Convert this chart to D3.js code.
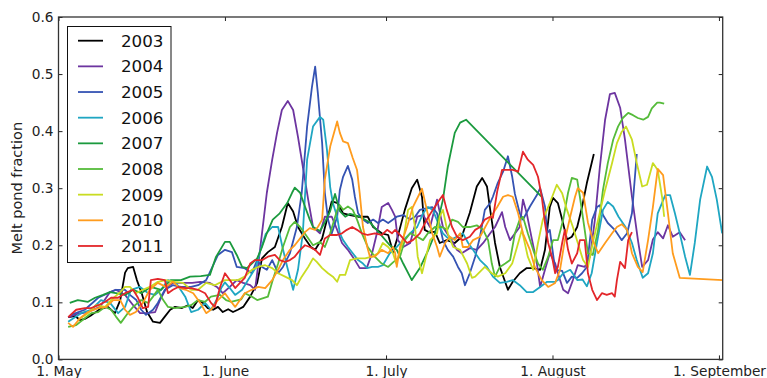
<!DOCTYPE html>
<html>
<head>
<meta charset="utf-8">
<script src="https://cdn.jsdelivr.net/npm/d3@7"></script>
<style>
  html, body { margin: 0; padding: 0; background: #fff; }
  svg { display: block; font-family: "DejaVu Sans", sans-serif; }
</style>
</head>
<body>
<svg id="chart" width="767" height="378"></svg>
<script>
// Days are counted from 1 May; values are melt pond fraction.
const years = ["2003", "2004", "2005", "2006", "2007", "2008", "2009", "2010", "2011"];
const colors = ["#000000", "#6d35a0", "#3553b3", "#1fa6c2", "#1b9a3e", "#55bb3a", "#c9dc22", "#ff9c1e", "#e3262a"];

const monthDays = [0, 31, 61, 92, 123];
const monthLabels = ["1. May", "1. June", "1. July", "1. August", "1. September"];
const yTicks = [0.0, 0.1, 0.2, 0.3, 0.4, 0.5, 0.6];

const y2003 = [[1.8,.074],[3.1,.076],[4.0,.069],[4.9,.071],[6.2,.078],[7.7,.088],[9.2,.092],[10.5,.081],[11.5,.104],[12.4,.152],[12.9,.160],[13.9,.162],[14.6,.139],[15.5,.116],[16.5,.083],[17.6,.066],[18.9,.064],[19.8,.075],[20.8,.087],[21.7,.092],[23.0,.090],[24.1,.095],[25.0,.090],[26.0,.104],[26.9,.099],[27.8,.090],[28.8,.087],[29.7,.092],[30.6,.083],[31.6,.088],[32.5,.083],[33.4,.087],[34.4,.092],[35.7,.110],[37.0,.134],[37.9,.177],[39.0,.188],[40.3,.197],[41.6,.232],[42.7,.274],[43.7,.259],[44.6,.232],[45.9,.212],[47.0,.197],[47.8,.192],[49.1,.212],[50.0,.245],[50.9,.277],[52.0,.274],[53.0,.256],[54.3,.253],[55.8,.250],[57.6,.250],[58.6,.232],[60.2,.221],[61.4,.218],[62.3,.188],[63.0,.209],[64.5,.262],[65.8,.300],[66.8,.315],[67.7,.285],[68.2,.227],[69.2,.222],[70.1,.224],[71.0,.204],[72.3,.209],[73.8,.204],[75.1,.215],[76.6,.257],[77.9,.303],[78.9,.318],[79.8,.303],[80.4,.262],[81.3,.204],[82.2,.162],[83.7,.122],[84.6,.136],[85.9,.151],[87.2,.160],[88.4,.160],[89.7,.157],[90.6,.192],[91.5,.267],[92.1,.283],[93.0,.274],[93.8,.245],[94.7,.210],[95.6,.215],[96.6,.232],[97.5,.267],[98.4,.309],[99.7,.360]];

const y2004 = [[1.8,.074],[3.6,.080],[5.5,.083],[7.7,.092],[9.6,.118],[10.7,.122],[12.4,.113],[13.9,.095],[15.2,.081],[16.5,.081],[18.0,.083],[18.9,.104],[20.2,.127],[21.3,.134],[23.0,.134],[24.9,.134],[26.4,.136],[28.2,.134],[29.5,.127],[30.6,.116],[31.9,.127],[33.2,.139],[34.4,.134],[35.7,.130],[36.6,.122],[37.0,.151],[37.9,.221],[38.8,.292],[39.8,.350],[40.7,.397],[41.6,.437],[42.7,.453],[43.7,.437],[44.6,.390],[45.5,.338],[46.5,.280],[47.4,.232],[48.7,.221],[49.6,.250],[50.9,.250],[51.9,.227],[52.8,.204],[53.9,.192],[55.2,.174],[56.1,.160],[57.4,.160],[58.4,.186],[59.3,.221],[60.2,.267],[61.4,.274],[62.1,.262],[62.7,.250],[63.2,.209],[64.2,.197],[65.5,.204],[66.8,.250],[67.9,.253],[69.2,.232],[70.5,.280],[71.6,.232],[73.1,.210],[74.2,.192],[75.1,.186],[76.6,.195],[77.9,.192],[79.1,.204],[80.4,.221],[81.3,.232],[82.6,.258],[83.2,.232],[84.1,.209],[85.9,.232],[86.5,.280],[87.2,.256],[88.2,.209],[89.1,.168],[89.7,.127],[90.6,.157],[91.5,.186],[92.5,.168],[93.0,.151],[94.0,.122],[94.9,.116],[95.8,.139],[96.7,.165],[98.0,.162],[99.0,.180],[99.9,.245],[100.8,.335],[101.8,.420],[102.7,.465],[103.6,.467],[104.6,.441],[105.5,.385],[106.8,.285],[107.9,.210],[108.7,.162],[109.8,.174],[110.7,.210],[111.6,.223],[112.6,.212],[113.5,.235],[114.4,.215],[115.7,.223],[116.7,.209]];

const y2005 = [[2.3,.078],[4.9,.087],[7.4,.108],[9.2,.116],[10.7,.122],[12.4,.122],[13.3,.113],[14.5,.104],[15.4,.087],[16.3,.078],[17.6,.087],[18.5,.099],[19.8,.122],[21.3,.130],[22.8,.127],[24.7,.127],[26.0,.130],[27.5,.139],[28.4,.157],[29.7,.183],[31.0,.192],[32.3,.188],[33.2,.162],[34.6,.160],[36.0,.151],[37.0,.174],[37.9,.162],[38.8,.157],[39.8,.174],[40.9,.151],[41.8,.162],[43.1,.186],[44.4,.232],[45.3,.292],[46.3,.408],[47.2,.477],[47.8,.513],[48.3,.467],[49.1,.379],[49.6,.292],[50.2,.245],[50.9,.221],[51.9,.250],[52.4,.297],[53.0,.320],[53.9,.339],[54.7,.315],[55.2,.285],[55.8,.256],[56.7,.245],[57.6,.239],[58.6,.245],[59.5,.239],[60.4,.245],[61.4,.239],[62.3,.245],[63.0,.250],[64.2,.253],[65.5,.245],[66.4,.250],[67.3,.262],[68.6,.265],[69.6,.267],[70.5,.256],[71.6,.209],[72.5,.192],[73.5,.180],[74.4,.162],[75.1,.151],[75.7,.130],[76.6,.151],[77.6,.180],[78.5,.215],[79.4,.262],[80.4,.274],[80.9,.285],[81.8,.309],[82.8,.329],[83.7,.356],[84.5,.320],[85.0,.290],[85.9,.256],[86.5,.245],[87.8,.268],[89.1,.288],[89.7,.300],[90.6,.268],[91.0,.221],[91.5,.227],[92.5,.157],[93.8,.155],[94.7,.134],[95.6,.145],[96.6,.143],[97.5,.151],[98.4,.162],[99.4,.245],[100.3,.267],[100.8,.270],[101.4,.253],[102.3,.239],[103.6,.227],[104.9,.209],[105.9,.221],[106.8,.256],[107.7,.360]];

const y2006 = [[1.8,.066],[4.2,.081],[6.1,.087],[7.9,.104],[9.6,.099],[11.1,.081],[12.4,.092],[13.5,.122],[15.2,.127],[16.7,.116],[18.0,.113],[19.1,.122],[20.4,.139],[21.9,.134],[23.6,.110],[24.7,.083],[26.0,.087],[27.3,.099],[28.4,.087],[29.5,.105],[30.3,.125],[31.0,.135],[31.9,.125],[32.9,.113],[34.2,.122],[35.3,.139],[36.8,.162],[37.5,.188],[38.6,.220],[39.8,.232],[40.9,.232],[41.7,.197],[42.6,.162],[43.7,.122],[44.6,.157],[45.5,.221],[46.3,.350],[47.4,.408],[48.7,.425],[49.3,.420],[50.0,.367],[50.6,.302],[51.1,.274],[51.9,.250],[52.4,.221],[53.0,.209],[53.9,.197],[54.8,.186],[55.8,.174],[56.7,.168],[57.5,.160],[58.4,.162],[59.5,.162],[60.4,.165],[61.7,.186],[63.0,.197],[64.2,.209],[65.5,.221],[66.8,.232],[67.9,.256],[68.8,.267],[69.7,.262],[70.7,.239],[71.6,.221],[72.9,.209],[74.2,.215],[75.3,.221],[76.3,.204],[77.2,.192],[78.5,.174],[79.8,.162],[80.9,.145],[82.2,.134],[83.5,.136],[84.6,.139],[85.9,.130],[87.2,.118],[88.4,.118],[89.7,.127],[91.0,.136],[92.5,.136],[93.0,.139],[94.0,.151],[95.3,.157],[96.6,.139],[97.6,.140],[98.4,.128],[99.3,.151],[100.3,.205],[101.4,.262],[102.3,.276],[103.3,.268],[104.3,.250],[105.6,.232],[106.8,.204],[107.7,.174],[108.8,.143],[109.8,.151],[110.7,.186],[111.6,.256],[113.0,.288],[113.9,.288],[114.8,.256],[115.7,.221],[116.7,.180],[117.6,.148],[118.5,.204],[119.5,.280],[120.8,.338],[121.7,.320],[122.6,.280],[123.6,.221]];

const y2007 = [[2.1,.099],[3.6,.104],[5.5,.101],[6.8,.108],[8.3,.113],[9.6,.118],[10.7,.116],[12.4,.113],[13.9,.122],[15.4,.116],[17.2,.127],[19.1,.122],[20.9,.139],[22.8,.139],[24.5,.145],[26.5,.146],[28.2,.148],[29.3,.179],[31.0,.206],[31.9,.206],[33.2,.183],[34.2,.162],[35.1,.160],[36.0,.168],[37.0,.177],[37.9,.197],[38.8,.221],[39.9,.245],[41.2,.256],[42.6,.274],[43.5,.292],[44.0,.301],[45.0,.292],[45.9,.268],[46.8,.245],[47.4,.232],[48.7,.225],[49.6,.240],[50.6,.260],[51.5,.290],[52.4,.260],[53.4,.250],[54.3,.255],[56.1,.250],[58.0,.240],[59.9,.220],[61.7,.200],[63.0,.192],[64.2,.168],[65.8,.139],[67.3,.160],[68.8,.190],[70.1,.220],[71.6,.280],[72.5,.338],[73.8,.397],[74.8,.415],[75.9,.420],[90.0,.285]];

const y2008 = [[1.8,.057],[3.3,.060],[4.9,.072],[6.1,.081],[7.4,.083],[8.7,.092],[9.8,.087],[10.7,.075],[11.6,.064],[12.9,.081],[13.9,.092],[15.4,.104],[16.7,.099],[17.6,.110],[18.5,.122],[19.5,.104],[20.4,.092],[21.7,.090],[23.6,.092],[24.7,.095],[26.0,.104],[27.3,.101],[28.4,.110],[30.1,.113],[31.2,.104],[32.1,.101],[34.0,.105],[34.7,.116],[36.0,.110],[37.0,.104],[39.0,.110],[39.9,.139],[40.9,.168],[41.8,.197],[43.1,.232],[44.0,.241],[45.0,.232],[46.3,.215],[47.4,.200],[48.7,.206],[49.6,.197],[50.6,.221],[51.9,.262],[52.4,.270],[53.0,.262],[53.9,.268],[54.8,.262],[55.6,.245],[56.5,.221],[57.6,.197],[58.9,.180],[60.2,.168],[61.4,.162],[62.3,.170],[63.6,.180],[64.5,.209],[65.5,.221],[66.8,.215],[67.9,.209],[68.8,.221],[70.1,.232],[71.4,.232],[72.4,.227],[73.3,.245],[74.4,.241],[75.3,.232],[76.6,.232],[77.9,.235],[79.1,.227],[80.0,.209],[80.7,.168],[81.3,.145],[82.2,.162],[83.2,.168],[84.1,.174],[85.0,.221],[85.9,.245],[86.5,.250],[87.4,.221],[88.4,.192],[89.3,.168],[90.2,.157],[91.2,.180],[92.1,.209],[93.0,.209],[94.0,.245],[94.9,.292],[95.6,.318],[96.6,.315],[97.1,.285],[98.0,.227],[98.6,.186],[99.5,.183],[100.5,.227],[101.4,.297],[102.3,.344],[103.3,.385],[104.2,.408],[105.1,.423],[106.1,.432],[107.0,.428],[107.9,.423],[108.9,.420],[109.8,.425],[110.5,.440],[111.5,.450],[112.0,.450],[112.8,.448]];

const y2009 = [[3.6,.069],[5.5,.081],[7.0,.095],[8.7,.092],[9.8,.104],[11.5,.118],[12.4,.127],[13.3,.127],[14.4,.116],[15.7,.122],[17.0,.127],[18.5,.136],[20.0,.139],[21.7,.136],[23.2,.134],[24.7,.122],[26.0,.122],[27.5,.134],[29.1,.130],[31.0,.139],[32.3,.139],[33.4,.139],[34.7,.145],[36.0,.157],[37.2,.162],[38.5,.165],[39.8,.160],[40.9,.151],[42.2,.145],[43.5,.139],[44.4,.130],[45.3,.145],[46.5,.162],[47.4,.177],[48.1,.171],[49.1,.160],[50.2,.151],[51.1,.145],[51.9,.136],[52.4,.148],[53.4,.148],[54.3,.174],[55.6,.177],[57.1,.177],[58.4,.180],[59.5,.186],[60.4,.204],[61.4,.197],[62.3,.186],[62.9,.168],[64.2,.209],[65.1,.262],[65.8,.267],[66.4,.232],[66.9,.180],[67.7,.151],[68.3,.174],[69.2,.209],[70.5,.221],[71.0,.250],[71.6,.262],[72.5,.221],[73.5,.197],[74.8,.192],[76.1,.168],[77.0,.143],[77.6,.145],[79.4,.162],[80.7,.151],[81.8,.145],[83.2,.151],[84.5,.168],[85.4,.197],[86.3,.227],[87.4,.180],[88.4,.157],[89.3,.204],[90.2,.245],[91.5,.274],[92.8,.306],[93.8,.291],[94.7,.262],[95.8,.232],[97.1,.192],[97.7,.174],[98.6,.162],[99.5,.204],[100.5,.245],[101.8,.297],[103.1,.344],[104.0,.379],[104.9,.399],[105.7,.408],[106.8,.385],[107.7,.344],[108.7,.303],[109.6,.306],[110.7,.344],[111.6,.332],[112.4,.285],[112.8,.250]];

const y2010 = [[1.8,.064],[2.7,.057],[4.0,.072],[5.5,.083],[7.4,.090],[8.9,.092],[10.2,.104],[11.5,.104],[12.4,.087],[13.3,.078],[14.4,.083],[15.7,.099],[17.0,.122],[18.5,.134],[20.0,.127],[21.3,.136],[22.6,.125],[23.7,.122],[25.1,.116],[26.4,.099],[27.5,.081],[28.4,.087],[29.7,.104],[31.0,.116],[31.9,.104],[32.9,.092],[33.8,.104],[34.7,.116],[36.0,.122],[37.2,.127],[38.5,.125],[39.8,.139],[40.9,.157],[41.8,.174],[43.1,.192],[44.0,.200],[45.0,.212],[45.9,.223],[46.8,.230],[47.8,.227],[48.3,.232],[49.1,.245],[49.6,.315],[50.6,.373],[51.9,.417],[52.4,.397],[53.0,.382],[53.9,.379],[54.8,.353],[55.6,.332],[56.1,.291],[56.7,.232],[57.5,.197],[58.0,.180],[58.9,.180],[60.2,.192],[61.4,.186],[62.3,.197],[62.7,.186],[63.0,.162],[63.6,.197],[64.9,.232],[66.0,.267],[67.7,.299],[68.6,.262],[69.6,.221],[70.5,.197],[71.0,.180],[72.0,.204],[72.9,.215],[73.8,.209],[74.8,.221],[75.3,.197],[76.3,.197],[77.2,.209],[78.5,.215],[80.4,.248],[81.7,.267],[82.8,.285],[83.7,.288],[84.6,.285],[85.6,.256],[86.5,.221],[87.8,.192],[88.7,.162],[90.0,.139],[91.2,.127],[92.5,.134],[93.4,.157],[94.3,.209],[95.3,.250],[96.2,.285],[96.7,.300],[97.7,.292],[98.6,.240],[99.5,.209],[100.5,.186],[101.8,.204],[103.1,.221],[104.0,.232],[104.9,.237],[105.9,.227],[106.8,.186],[107.9,.162],[108.8,.153],[109.8,.209],[110.7,.267],[111.6,.334],[112.6,.323],[113.5,.256],[114.4,.186],[115.7,.143],[123.7,.139]];

const y2011 = [[1.8,.074],[3.3,.087],[4.9,.090],[6.1,.090],[7.4,.095],[8.7,.101],[9.8,.108],[11.1,.108],[12.4,.116],[13.9,.122],[14.8,.108],[15.7,.090],[16.7,.092],[17.2,.139],[18.5,.141],[19.8,.139],[20.4,.116],[21.3,.122],[22.3,.127],[23.6,.125],[24.7,.125],[26.0,.122],[27.3,.116],[28.4,.099],[29.1,.092],[30.1,.127],[31.0,.151],[31.9,.139],[32.9,.125],[33.8,.134],[34.7,.143],[35.7,.168],[36.6,.174],[37.9,.174],[39.0,.180],[40.3,.183],[41.2,.174],[42.2,.171],[43.1,.174],[44.0,.180],[45.0,.192],[45.9,.200],[46.8,.197],[47.8,.192],[48.7,.183],[49.6,.212],[50.6,.218],[51.9,.218],[52.8,.221],[53.7,.227],[54.7,.232],[55.6,.227],[56.5,.221],[57.6,.218],[58.9,.221],[60.2,.218],[61.2,.227],[62.1,.221],[62.7,.227],[63.9,.215],[64.9,.204],[66.0,.209],[67.3,.221],[68.6,.245],[69.7,.262],[71.0,.280],[71.6,.288],[72.3,.262],[73.3,.232],[74.2,.215],[75.3,.209],[76.6,.215],[77.6,.227],[78.5,.232],[79.4,.245],[80.4,.250],[80.9,.248],[81.7,.294],[82.6,.332],[83.5,.332],[84.6,.332],[85.6,.329],[86.5,.364],[87.4,.350],[88.4,.341],[89.3,.320],[90.0,.285],[90.6,.239],[91.2,.204],[91.9,.180],[92.5,.151],[93.0,.162],[93.8,.204],[94.3,.227],[94.9,.192],[95.6,.168],[96.6,.186],[97.1,.209],[98.0,.209],[98.6,.151],[99.4,.122],[100.3,.104],[101.2,.116],[102.1,.113],[103.1,.116],[103.6,.110],[104.0,.139],[104.6,.171],[105.5,.160],[106.1,.209],[106.8,.223]];

const seriesData = [y2003, y2004, y2005, y2006, y2007, y2008, y2009, y2010, y2011];

(function draw() {
  // Plot area bounds in pixels
  const pL = 58.5, pR = 722.7, pT = 17, pB = 359.4;
  const svg = d3.select("#chart");

  const x = d3.scaleLinear().domain([0, 123.7]).range([pL, pR]);
  const y = d3.scaleLinear().domain([0, 0.6]).range([pB, pT]);

  svg.append("defs").append("clipPath").attr("id", "plot-clip")
    .append("rect").attr("x", pL).attr("y", pT)
    .attr("width", pR - pL).attr("height", pB - pT);

  // Series lines
  const line = d3.line().x(d => x(d[0])).y(d => y(d[1]));
  const lines = svg.append("g").attr("clip-path", "url(#plot-clip)");
  seriesData.forEach((s, i) => {
    lines.append("path")
      .datum(s)
      .attr("d", line)
      .attr("fill", "none")
      .attr("stroke", colors[i])
      .attr("stroke-width", 1.8)
      .attr("stroke-linejoin", "round");
  });

  // Axes with inward ticks on all four sides
  function styleAxis(g) {
    g.select(".domain").remove();
    g.selectAll(".tick line").attr("stroke", "#222").attr("stroke-width", 1);
    g.selectAll(".tick text").attr("fill", "#222").style("font-size", "13.7px")
      .style("font-family", "DejaVu Sans, sans-serif");
  }

  svg.append("g").attr("transform", `translate(${pL},0)`)
    .call(d3.axisLeft(y).tickValues(yTicks).tickFormat(d3.format(".1f")).tickSize(-4).tickPadding(5))
    .call(styleAxis);
  svg.append("g").attr("transform", `translate(${pR},0)`)
    .call(d3.axisRight(y).tickValues(yTicks).tickFormat("").tickSize(-4))
    .call(styleAxis);
  svg.append("g").attr("transform", `translate(0,${pB})`)
    .call(d3.axisBottom(x).tickValues(monthDays).tickFormat((d, i) => monthLabels[i]).tickSize(-4).tickPadding(7))
    .call(styleAxis);
  svg.append("g").attr("transform", `translate(0,${pT})`)
    .call(d3.axisTop(x).tickValues(monthDays).tickFormat("").tickSize(-4))
    .call(styleAxis);

  // Frame
  svg.append("rect")
    .attr("x", pL).attr("y", pT)
    .attr("width", pR - pL).attr("height", pB - pT)
    .attr("fill", "none").attr("stroke", "#333").attr("stroke-width", 1.3);

  // Y axis title
  svg.append("text")
    .attr("transform", `translate(22,${(pT + pB) / 2}) rotate(-90)`)
    .attr("text-anchor", "middle")
    .style("font-size", "14.5px")
    .attr("fill", "#222")
    .text("Melt pond fraction");

  // Legend
  const lg = svg.append("g");
  lg.append("rect")
    .attr("x", 67.5).attr("y", 26.5).attr("width", 103.5).attr("height", 236)
    .attr("fill", "#fff").attr("stroke", "#111").attr("stroke-width", 1);
  years.forEach((yr, i) => {
    const cy = 40.7 + i * 25.66;
    lg.append("line")
      .attr("x1", 78).attr("x2", 103).attr("y1", cy).attr("y2", cy)
      .attr("stroke", colors[i]).attr("stroke-width", 1.8);
    lg.append("text")
      .attr("x", 121).attr("y", cy).attr("dy", "0.36em")
      .style("font-size", "16.7px").attr("fill", "#111")
      .text(yr);
  });
})();
</script>
</body>
</html>
